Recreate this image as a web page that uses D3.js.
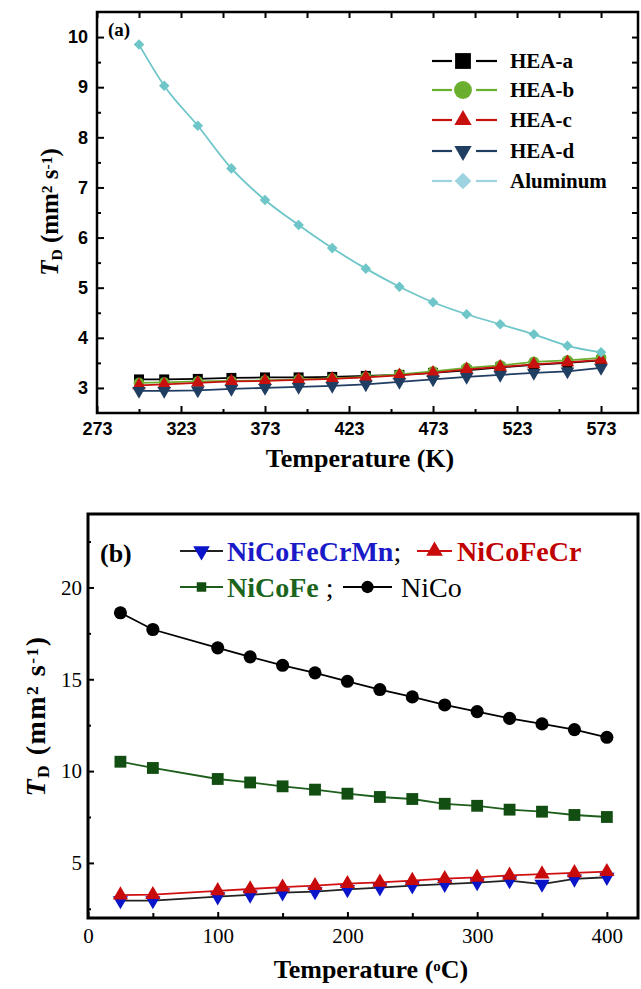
<!DOCTYPE html>
<html>
<head>
<meta charset="utf-8">
<script src="https://cdn.jsdelivr.net/npm/d3@7.9.0/dist/d3.min.js"></script>
<style>
  body { margin: 0; background: #fff; }
  svg { display: block; }
</style>
</head>
<body>
<svg id="chart"></svg>
<script>
// ---- panel (a) data ----
const tempK = [298, 313, 333, 353, 373, 393, 413, 433, 453, 473, 493, 513, 533, 553, 573];
const heaA = [3.17, 3.17, 3.18, 3.20, 3.21, 3.21, 3.22, 3.24, 3.26, 3.30, 3.35, 3.41, 3.46, 3.50, 3.55];
const heaB = [3.10, 3.11, 3.13, 3.14, 3.15, 3.17, 3.19, 3.22, 3.27, 3.33, 3.40, 3.45, 3.52, 3.55, 3.60];
const heaC = [3.05, 3.07, 3.10, 3.13, 3.14, 3.16, 3.18, 3.21, 3.25, 3.30, 3.37, 3.42, 3.47, 3.51, 3.56];
const heaD = [2.94, 2.94, 2.95, 2.98, 3.00, 3.02, 3.04, 3.07, 3.12, 3.17, 3.22, 3.26, 3.30, 3.33, 3.40];
const aluminum = [9.85, 9.03, 8.23, 7.38, 6.75, 6.25, 5.79, 5.38, 5.02, 4.71, 4.47, 4.27, 4.07, 3.84, 3.71];
const ticksK = [273, 323, 373, 423, 473, 523, 573];
const ticksA = [3, 4, 5, 6, 7, 8, 9, 10];

// ---- panel (b) data ----
const tempC = [25, 50, 100, 125, 150, 175, 200, 225, 250, 275, 300, 325, 350, 375, 400];
const niCoFeCrMn = [2.95, 2.95, 3.16, 3.26, 3.38, 3.44, 3.56, 3.65, 3.76, 3.84, 3.93, 4.04, 3.85, 4.13, 4.22];
const niCoFeCr = [3.25, 3.27, 3.48, 3.58, 3.68, 3.76, 3.87, 3.94, 4.04, 4.14, 4.21, 4.32, 4.39, 4.46, 4.52];
const niCoFe = [10.51, 10.17, 9.57, 9.38, 9.17, 8.99, 8.77, 8.59, 8.48, 8.22, 8.11, 7.90, 7.79, 7.61, 7.50];
const niCo = [18.62, 17.71, 16.71, 16.22, 15.76, 15.35, 14.89, 14.44, 14.04, 13.60, 13.24, 12.87, 12.57, 12.26, 11.84];
const ticksC = [0, 100, 200, 300, 400];
const ticksB = [5, 10, 15, 20];

const width = 641;
const height = 989;
const serif = '"Liberation Serif", "Times New Roman", serif';
const sans = '"Liberation Sans", Arial, sans-serif';

const svg = d3.select('#chart')
  .attr('width', width)
  .attr('height', height)
  .attr('viewBox', `0 0 ${width} ${height}`);

function symbolPath(type, size) {
  return d3.symbol().type(type).size(size)();
}

function yTitle(g, x, y, size, spacing) {
  const t = g.append('text')
    .attr('transform', `translate(${x},${y}) rotate(-90)`)
    .attr('text-anchor', 'middle')
    .attr('font-family', serif)
    .attr('font-weight', 'bold')
    .attr('font-size', size)
    .attr('letter-spacing', spacing);
  t.append('tspan').attr('font-style', 'italic').text('T');
  t.append('tspan').attr('baseline-shift', '-25%').attr('font-size', size * 0.62).text('D');
  t.append('tspan').text(' (mm');
  t.append('tspan').attr('baseline-shift', '40%').attr('font-size', size * 0.62).text('2');
  t.append('tspan').text(' s');
  t.append('tspan').attr('baseline-shift', '40%').attr('font-size', size * 0.62).text('-1');
  t.append('tspan').text(')');
}

// =================== panel (a) ===================
const xA = d3.scaleLinear().domain([273, 595]).range([97, 638]);
const yA = d3.scaleLinear().domain([2.5, 10.5]).range([413, 12]);
const gA = svg.append('g');

// axes (ticks point inward)
const minorK = d3.range(298, 595, 50);
const minorA = d3.range(3.5, 10.5, 1);

gA.append('g').attr('transform', 'translate(0,413)')
  .call(d3.axisBottom(xA).tickValues(ticksK).tickSizeInner(-7).tickSizeOuter(0).tickPadding(9));
gA.append('g').attr('transform', 'translate(0,413)')
  .call(d3.axisBottom(xA).tickValues(minorK).tickSizeInner(-4).tickSizeOuter(0).tickFormat(''));
gA.append('g').attr('transform', 'translate(0,12)')
  .call(d3.axisTop(xA).tickValues(ticksK.concat(minorK)).tickSizeInner(-6).tickSizeOuter(0).tickFormat(''));
gA.append('g').attr('transform', 'translate(97,0)')
  .call(d3.axisLeft(yA).tickValues(ticksA).tickSizeInner(-7).tickSizeOuter(0).tickPadding(9));
gA.append('g').attr('transform', 'translate(97,0)')
  .call(d3.axisLeft(yA).tickValues(minorA).tickSizeInner(-4).tickSizeOuter(0).tickFormat(''));
gA.append('g').attr('transform', 'translate(638,0)')
  .call(d3.axisRight(yA).tickValues(ticksA.concat(minorA)).tickSizeInner(-6).tickSizeOuter(0).tickFormat(''));

gA.selectAll('.domain').remove();
gA.selectAll('.tick line').attr('stroke', '#000').attr('stroke-width', 2);
gA.selectAll('.tick text')
  .attr('font-family', sans)
  .attr('font-weight', 'bold')
  .attr('font-size', 18)
  .attr('fill', '#000');

gA.append('rect')
  .attr('x', 97).attr('y', 12)
  .attr('width', 638 - 97).attr('height', 413 - 12)
  .attr('fill', 'none').attr('stroke', '#000').attr('stroke-width', 2.5);

const seriesA = [
  { name: 'HEA-a', values: heaA, color: '#000000', type: d3.symbolSquare, size: 100, rot: 0 },
  { name: 'HEA-b', values: heaB, color: '#6aaf2e', type: d3.symbolCircle, size: 90, rot: 0 },
  { name: 'HEA-c', values: heaC, color: '#c8100e', type: d3.symbolTriangle, size: 80, rot: 0 },
  { name: 'HEA-d', values: heaD, color: '#203d62', type: d3.symbolTriangle, size: 80, rot: 180 },
  { name: 'Aluminum', values: aluminum, color: '#6ec6c9', type: d3.symbolSquare, size: 56, rot: 45 },
];

const lineA = d3.line().x(d => xA(d[0])).y(d => yA(d[1]));

seriesA.forEach(s => {
  const pts = tempK.map((t, i) => [t, s.values[i]]);
  gA.append('path')
    .attr('d', s.name === 'Aluminum' ? lineA.curve(d3.curveMonotoneX)(pts) : lineA.curve(d3.curveLinear)(pts))
    .attr('fill', 'none')
    .attr('stroke', s.color)
    .attr('stroke-width', 1.8);
  gA.append('g').selectAll('path')
    .data(pts)
    .join('path')
    .attr('d', symbolPath(s.type, s.size))
    .attr('transform', d => `translate(${xA(d[0])},${yA(d[1])}) rotate(${s.rot})`)
    .attr('fill', s.color);
});

// legend (a)
const legA = gA.append('g');
const legRowsA = [61, 90, 120, 151, 181];
seriesA.forEach((s, i) => {
  const y = legRowsA[i];
  const lc = s.name === 'Aluminum' ? '#9dd3e0' : s.color;
  legA.append('line').attr('x1', 432).attr('x2', 452).attr('y1', y).attr('y2', y)
    .attr('stroke', lc).attr('stroke-width', 2.2);
  legA.append('line').attr('x1', 476).attr('x2', 497).attr('y1', y).attr('y2', y)
    .attr('stroke', lc).attr('stroke-width', 2.2);
  legA.append('path')
    .attr('d', symbolPath(s.type, s.name === 'Aluminum' ? 140 : (s.type === d3.symbolTriangle ? 130 : 250)))
    .attr('transform', `translate(463,${y}) rotate(${s.rot})`)
    .attr('fill', lc);
  legA.append('text')
    .attr('x', 510).attr('y', y + 7)
    .attr('font-family', serif).attr('font-weight', 'bold').attr('font-size', 21)
    .text(s.name);
});

gA.append('text')
  .attr('x', 108).attr('y', 36)
  .attr('font-family', serif).attr('font-weight', 'bold').attr('font-size', 19)
  .text('(a)');

yTitle(gA, 58, 212, 25, 0);

gA.append('text')
  .attr('x', 360).attr('y', 467)
  .attr('text-anchor', 'middle')
  .attr('font-family', serif).attr('font-weight', 'bold').attr('font-size', 26)
  .text('Temperature (K)');

// =================== panel (b) ===================
const xB = d3.scaleLinear().domain([0, 424]).range([88, 638]);
const yB = d3.scaleLinear().domain([2, 24]).range([918, 514]);
const gB = svg.append('g');

const minorC = d3.range(50, 424, 100);
const minorB = [2.5, 7.5, 12.5, 17.5, 22.5];

gB.append('g').attr('transform', 'translate(0,918)')
  .call(d3.axisBottom(xB).tickValues(ticksC).tickSizeInner(-6).tickSizeOuter(0).tickPadding(10));
gB.append('g').attr('transform', 'translate(0,918)')
  .call(d3.axisBottom(xB).tickValues(minorC).tickSizeInner(-5).tickSizeOuter(0).tickFormat(''));
gB.append('g').attr('transform', 'translate(88,0)')
  .call(d3.axisLeft(yB).tickValues(ticksB).tickSizeInner(-6).tickSizeOuter(0).tickPadding(6));
gB.append('g').attr('transform', 'translate(88,0)')
  .call(d3.axisLeft(yB).tickValues(minorB).tickSizeInner(-3).tickSizeOuter(0).tickFormat(''));

gB.selectAll('.domain').remove();
gB.selectAll('.tick line').attr('stroke', '#000').attr('stroke-width', 2);
gB.selectAll('.tick text')
  .attr('font-family', serif)
  .attr('font-size', 21)
  .attr('fill', '#000');

gB.append('rect')
  .attr('x', 88).attr('y', 514)
  .attr('width', 638 - 88).attr('height', 918 - 514)
  .attr('fill', 'none').attr('stroke', '#000').attr('stroke-width', 3);

const seriesB = [
  { name: 'NiCoFeCrMn', values: niCoFeCrMn, line: '#222222', fill: '#0a14c8', type: d3.symbolTriangle, size: 100, rot: 180 },
  { name: 'NiCoFeCr', values: niCoFeCr, line: '#d01010', fill: '#c80a0a', type: d3.symbolTriangle, size: 100, rot: 0 },
  { name: 'NiCoFe', values: niCoFe, line: '#1d5e1d', fill: '#124d12', type: d3.symbolSquare, size: 140, rot: 0 },
  { name: 'NiCo', values: niCo, line: '#000000', fill: '#000000', type: d3.symbolCircle, size: 135, rot: 0 },
];

const lineB = d3.line().x(d => xB(d[0])).y(d => yB(d[1]));

seriesB.forEach(s => {
  const pts = tempC.map((t, i) => [t, s.values[i]]);
  gB.append('path')
    .attr('d', lineB(pts))
    .attr('fill', 'none')
    .attr('stroke', s.line)
    .attr('stroke-width', 1.8);
  gB.append('g').selectAll('path')
    .data(pts)
    .join('path')
    .attr('d', symbolPath(s.type, s.size))
    .attr('transform', d => `translate(${xB(d[0])},${yB(d[1])}) rotate(${s.rot})`)
    .attr('fill', s.fill);
});

// legend (b)
const legB = gB.append('g');
const legItemsB = [
  { s: seriesB[0], x1: 180, x2: 223, tx: 227, y: 551, color: '#1a1ac8', bold: true, sep: ';' },
  { s: seriesB[1], x1: 417, x2: 452, tx: 457, y: 551, color: '#c00000', bold: true, sep: '' },
  { s: seriesB[2], x1: 180, x2: 223, tx: 227, y: 587, color: '#1b641b', bold: true, sep: ' ;' },
  { s: seriesB[3], x1: 343, x2: 392, tx: 401, y: 587, color: '#000000', bold: false, sep: '' },
];
legItemsB.forEach(d => {
  legB.append('line').attr('x1', d.x1).attr('x2', d.x2).attr('y1', d.y).attr('y2', d.y)
    .attr('stroke', d.s.line).attr('stroke-width', 2);
  legB.append('path')
    .attr('d', symbolPath(d.s.type, d.s.type === d3.symbolSquare ? 90 : 120))
    .attr('transform', `translate(${(d.x1 + d.x2) / 2},${d.y}) rotate(${d.s.rot})`)
    .attr('fill', d.s.fill);
  const t = legB.append('text')
    .attr('x', d.tx).attr('y', d.y + 10)
    .attr('font-family', serif).attr('font-size', 28);
  t.append('tspan')
    .attr('fill', d.color)
    .attr('font-weight', d.bold ? 'bold' : 'normal')
    .text(d.s.name);
  if (d.sep) t.append('tspan').attr('fill', '#000').text(d.sep);
});

gB.append('text')
  .attr('x', 100).attr('y', 562)
  .attr('font-family', serif).attr('font-weight', 'bold').attr('font-size', 26)
  .text('(b)');

yTitle(gB, 45, 716, 28, 1.5);

const xt = gB.append('text')
  .attr('x', 371).attr('y', 978)
  .attr('text-anchor', 'middle')
  .attr('font-family', serif).attr('font-weight', 'bold').attr('font-size', 26);
xt.append('tspan').text('Temperature (');
xt.append('tspan').attr('baseline-shift', '45%').attr('font-size', 15).text('o');
xt.append('tspan').text('C)');
</script>
</body>
</html>
